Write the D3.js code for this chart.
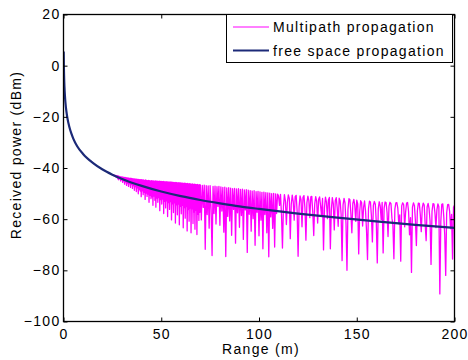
<!DOCTYPE html>
<html>
<head>
<meta charset="utf-8">
<script src="https://cdn.jsdelivr.net/npm/d3@7"></script>
<style>
  body { margin: 0; background: #fff; }
  svg text { font-family: "Liberation Sans", Arial, Helvetica, sans-serif; fill: #000; letter-spacing: 1.3px; }
</style>
</head>
<body>
<div id="chart"></div>
<script>
// free space propagation
const fsRange = [0.1, 0.2, 0.3, 0.5, 0.75, 1, 1.5, 2, 3, 4, 5, 7, 10, 15, 20, 25, 30, 40, 50, 60, 70, 80, 90, 100, 120, 140, 160, 180, 200];
const fsDbm = [5.5, -0.5, -4, -8.5, -12, -14.5, -18, -20.5, -24, -26.5, -28.5, -31.5, -34.5, -38, -40.6, -42.6, -44.3, -47, -49.2, -51, -52.5, -53.8, -55, -56, -57.8, -59.4, -60.9, -62.2, -63.4];

// multipath propagation, near part: every 0.25 m from 25 m to 69.75 m
const mpNearStart = 25;
const mpNearStep = 0.25;
const mpNearDbm = [
  -42.5, -42.8, -42.6, -43.0, -42.8, -43.2, -42.9, -43.5, -43.0, -43.7,
  -43.0, -44.2, -43.1, -44.6, -43.3, -44.0, -43.4, -45.1, -43.5, -44.5,
  -43.5, -45.6, -43.6, -45.0, -43.7, -46.3, -43.7, -45.4, -43.8, -46.8,
  -43.9, -45.9, -43.9, -47.2, -44.0, -46.1, -44.1, -47.6, -44.0, -46.4,
  -44.2, -48.0, -44.2, -46.9, -44.3, -48.7, -44.3, -47.3, -44.4, -49.2,
  -44.4, -47.8, -44.5, -50.1, -44.5, -48.4, -44.6, -49.0, -44.6, -51.2,
  -44.6, -48.9, -44.7, -50.4, -44.7, -49.5, -44.8, -52.3, -44.7, -49.8,
  -44.8, -51.1, -44.9, -50.2, -44.8, -53.4, -44.9, -50.7, -45.0, -52.0,
  -44.9, -51.3, -45.0, -54.6, -45.0, -51.0, -45.1, -52.6, -45.0, -55.3,
  -45.1, -51.8, -45.1, -53.4, -45.2, -51.6, -45.1, -56.7, -45.2, -52.4,
  -45.2, -54.1, -45.3, -52.2, -45.2, -57.8, -45.3, -53.0, -45.4, -55.6,
  -45.3, -52.8, -45.4, -59.0, -45.4, -53.5, -45.5, -56.2, -45.4, -53.1,
  -45.5, -60.3, -45.5, -54.0, -45.6, -57.4, -45.6, -53.6, -45.7, -61.5,
  -45.6, -54.4, -45.7, -58.3, -45.8, -54.1, -45.7, -62.2, -45.8, -55.0,
  -45.8, -57.9, -45.9, -54.6, -45.9, -63.4, -46.0, -55.5, -45.9, -59.6,
  -46.0, -55.1, -46.1, -64.6, -46.0, -56.3, -46.2, -60.8, -46.1, -55.7,
  -46.2, -65.3, -46.3, -56.0, -46.2, -61.7, -46.4, -57.2, -46.3, -63.9,
  -46.4, -56.6, -46.5, -66.0, -46.4, -58.1, -46.6, -60.5, -46.5, -57.3
];

// multipath propagation, far part: every 0.5 m from 70 m to 200 m
const mpFarStart = 70;
const mpFarStep = 0.5;
const mpFarDbm = [
  -46.6, -60.3, -46.8, -55.4, -46.7, -71.8, -46.9, -58.2, -47.0, -63.5,
  -46.9, -56.1, -74.2, -47.2, -57.8, -47.1, -61.9, -47.3, -55.0, -47.2,
  -62.4, -47.4, -56.8, -47.6, -65.1, -47.5, -74.6, -47.8, -58.9, -47.7,
  -60.7, -47.9, -66.3, -48.1, -56.2, -48.0, -69.4, -48.2, -57.5, -48.1,
  -63.2, -48.4, -58.6, -48.3, -67.9, -48.6, -56.4, -48.5, -73.0, -48.7,
  -58.1, -48.9, -64.7, -49.0, -59.8, -48.9, -70.2, -49.2, -57.3, -49.1,
  -66.5, -49.3, -60.4, -49.5, -71.6, -49.4, -58.2, -49.6, -65.3, -49.7,
  -74.7, -49.8, -59.1, -50.0, -63.6, -49.9, -70.9, -50.1, -57.8, -50.2,
  -51.0, -54.6, -50.3, -58.2, -71.3, -55.0, -50.4, -52.8, -62.1, -53.5,
  -50.5, -51.9, -67.6, -54.2, -50.6, -53.1, -60.4, -51.2, -50.7, -56.8,
  -74.5, -55.3, -50.9, -52.4, -63.0, -51.5, -50.8, -55.7, -68.2, -53.6,
  -51.0, -52.7, -59.4, -51.3, -51.1, -57.2, -66.4, -54.1, -51.2, -53.0,
  -61.5, -52.2, -51.3, -54.8, -58.7, -51.9, -72.0, -55.6, -51.4, -53.3,
  -59.8, -52.5, -51.5, -71.6, -56.3, -51.6, -53.9, -64.2, -52.8, -51.6,
  -55.5, -62.8, -51.8, -52.9, -58.0, -76.2, -54.4, -51.9, -53.6, -61.7,
  -80.0, -56.2, -52.0, -52.4, -57.9, -65.3, -53.8, -52.3, -54.6, -60.9,
  -52.6, -54.0, -73.6, -57.1, -52.8, -53.5, -62.7, -55.3, -52.9, -56.8,
  -64.4, -75.8, -55.9, -53.0, -53.3, -58.7, -68.9, -54.6, -53.1, -54.2,
  -61.3, -77.1, -56.0, -53.2, -54.8, -60.2, -53.4, -73.2, -55.7, -53.3,
  -53.5, -57.4, -66.8, -54.9, -53.4, -53.9, -59.6, -62.4, -75.5, -56.1,
  -53.6, -53.5, -55.7, -61.8, -58.3, -76.4, -54.8, -53.6, -54.4, -63.0,
  -57.2, -53.7, -53.5, -56.9, -66.1, -59.4, -80.8, -55.3, -53.6, -54.7,
  -60.5, -70.3, -56.8, -53.7, -53.8, -58.2, -64.9, -55.6, -53.7, -54.5,
  -61.9, -68.4, -55.2, -53.8, -55.9, -60.7, -77.7, -57.0, -53.9, -54.1,
  -57.6, -63.3, -56.4, -54.0, -55.1, -89.2, -61.0, -54.2, -54.0, -58.8,
  -66.0, -82.0, -57.5, -54.3, -54.2, -56.9, -63.7, -58.1, -75.6, -55.4,
  -54.6
];

const xTicks = [0, 50, 100, 150, 200];
const yTicks = [20, 0, -20, -40, -60, -80, -100];
const legendLabels = ['Multipath propagation', 'free space propagation'];

const W = 468, H = 360;
const plotL = 63.5, plotR = 454.5, plotT = 14.5, plotB = 321.5;
const magenta = '#ff00ff';
const navy = '#1c2a78';

const svg = d3.select('#chart').append('svg')
  .attr('width', W).attr('height', H);

const x = d3.scaleLinear().domain([0, 200]).range([plotL, plotR]);
const y = d3.scaleLinear().domain([-100, 20]).range([plotB, plotT]);

svg.append('clipPath').attr('id', 'plot-clip')
  .append('rect')
  .attr('x', plotL).attr('y', plotT)
  .attr('width', plotR - plotL).attr('height', plotB - plotT);

const plot = svg.append('g').attr('clip-path', 'url(#plot-clip)');

const mpPoints = mpNearDbm.map((v, i) => [mpNearStart + i * mpNearStep, v])
  .concat(mpFarDbm.map((v, i) => [mpFarStart + i * mpFarStep, v]));

const mpLine = d3.line()
  .x(d => x(d[0]))
  .y(d => y(d[1]));

plot.append('path')
  .datum(mpPoints)
  .attr('fill', 'none')
  .attr('stroke', magenta)
  .attr('stroke-width', 1.3)
  .attr('stroke-linejoin', 'round')
  .attr('d', mpLine);

const fsLine = d3.line()
  .x((d, i) => x(fsRange[i]))
  .y(d => y(d))
  .curve(d3.curveMonotoneX);

plot.append('path')
  .datum(fsDbm)
  .attr('fill', 'none')
  .attr('stroke', navy)
  .attr('stroke-width', 2.2)
  .attr('d', fsLine);

// axes, MATLAB style box with inward ticks
const tickLen = 4;
const axisBottom = d3.axisBottom(x).tickValues(xTicks).tickSizeInner(-tickLen).tickSizeOuter(0).tickPadding(8);
const axisTop = d3.axisTop(x).tickValues(xTicks).tickSizeInner(-tickLen).tickSizeOuter(0).tickFormat('');
const axisLeft = d3.axisLeft(y).tickValues(yTicks).tickSizeInner(-tickLen).tickSizeOuter(0).tickPadding(3)
  .tickFormat(d => d < 0 ? '\u2212' + Math.abs(d) : d);
const axisRight = d3.axisRight(y).tickValues(yTicks).tickSizeInner(-tickLen).tickSizeOuter(0).tickFormat('');

svg.append('g').attr('transform', `translate(0,${plotB})`).call(axisBottom);
svg.append('g').attr('transform', `translate(0,${plotT})`).call(axisTop);
svg.append('g').attr('transform', `translate(${plotL},0)`).call(axisLeft);
svg.append('g').attr('transform', `translate(${plotR},0)`).call(axisRight);

svg.selectAll('.domain').remove();
svg.selectAll('.tick line').attr('stroke', '#000');
svg.selectAll('.tick text').attr('font-size', 14);

svg.append('rect')
  .attr('x', plotL).attr('y', plotT)
  .attr('width', plotR - plotL).attr('height', plotB - plotT)
  .attr('fill', 'none').attr('stroke', '#000').attr('stroke-width', 1.3);

svg.append('text')
  .attr('x', 261).attr('y', 354)
  .attr('text-anchor', 'middle')
  .attr('font-size', 14)
  .text('Range (m)');

svg.append('text')
  .attr('transform', 'translate(21,155) rotate(-90)')
  .attr('text-anchor', 'middle')
  .attr('font-size', 14)
  .text('Received power (dBm)');

// legend
const legend = svg.append('g');
legend.append('rect')
  .attr('x', 226.5).attr('y', plotT)
  .attr('width', 226).attr('height', 48)
  .attr('fill', '#fff').attr('stroke', '#000').attr('stroke-width', 1);

const legendColors = [magenta, navy];
const legendWidths = [1, 2];
legendLabels.forEach((label, i) => {
  const ly = 27 + i * 23.5;
  legend.append('line')
    .attr('x1', 233).attr('x2', 269)
    .attr('y1', ly).attr('y2', ly)
    .attr('stroke', legendColors[i])
    .attr('stroke-width', legendWidths[i]);
  legend.append('text')
    .attr('x', 273).attr('y', ly + 5)
    .attr('font-size', 14)
    .text(label);
});
</script>
</body>
</html>
